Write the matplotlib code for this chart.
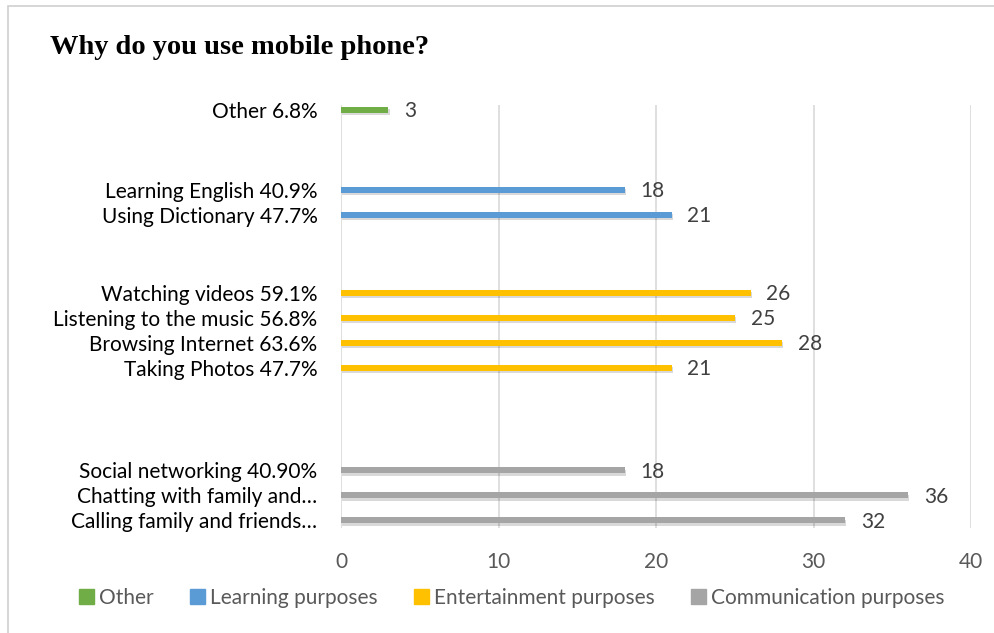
import matplotlib.pyplot as plt
import matplotlib.patheffects as pe
from matplotlib.patches import Rectangle, Patch

# survey answers, top to bottom
labels = [
    "Other 6.8%",
    "Learning English 40.9%",
    "Using Dictionary 47.7%",
    "Watching videos 59.1%",
    "Listening to the music 56.8%",
    "Browsing Internet 63.6%",
    "Taking Photos 47.7%",
    "Social networking 40.90%",
    "Chatting with family and…",
    "Calling family and friends…",
]
counts = [3, 18, 21, 26, 25, 28, 21, 18, 36, 32]
groups = ["Other", "Learning purposes", "Learning purposes",
          "Entertainment purposes", "Entertainment purposes",
          "Entertainment purposes", "Entertainment purposes",
          "Communication purposes", "Communication purposes",
          "Communication purposes"]

legend_order = ["Other", "Learning purposes", "Entertainment purposes",
                "Communication purposes"]
colors = {
    "Other": "#70AD47",
    "Learning purposes": "#5B9BD5",
    "Entertainment purposes": "#FFC000",
    "Communication purposes": "#A5A5A5",
}
# extra empty space between groups (in bar slots), from the bottom up
group_gap = {"Entertainment purposes": 4.1, "Learning purposes": 3.1,
             "Other": 3.2}

# build y positions from the bottom
ypos = []
y = 0.0
prev = None
for g in reversed(groups):
    if prev is not None:
        y += group_gap[g] if g != prev else 1.0
    ypos.append(y)
    prev = g
ypos = ypos[::-1]

plt.rcParams["font.family"] = ["Lato", "DejaVu Sans"]
fs = 15

fig = plt.figure(figsize=(9.94, 6.33), dpi=100)
fig.patches.append(Rectangle((8 / 994, -0.01), 1.0, 1 - 6 / 633 + 0.01,
                             transform=fig.transFigure, fill=False,
                             edgecolor="#D0D0D0", lw=1.2))

ax = fig.add_axes([341 / 994, 1 - 528 / 633, 630 / 994, 423 / 633])

shadow = [pe.SimplePatchShadow(offset=(1, -1.5), shadow_rgbFace="#000000",
                               alpha=0.15), pe.Normal()]
for yy, v, g in zip(ypos, counts, groups):
    bar = ax.barh(yy, v, height=0.24, color=colors[g], zorder=3)
    for p in bar:
        p.set_path_effects(shadow)
    ax.text(v + 1, yy - 0.05, str(v), va="center", ha="left",
            fontsize=fs, color="#404040")

ax.set_xlim(0, 40)
ax.set_ylim(-0.3, 16.6)
ax.set_xticks([0, 10, 20, 30, 40])
ax.set_yticks(ypos)
ax.set_yticklabels(labels, fontsize=fs, color="#000000")
ax.tick_params(axis="x", labelsize=fs, labelcolor="#595959", length=0,
               pad=17)
ax.tick_params(axis="y", length=0, pad=17)
ax.grid(axis="x", color="#D9D9D9", lw=1.2, zorder=0)
for s in ax.spines.values():
    s.set_visible(False)

fig.text(50 / 994, 1 - 47 / 633, "Why do you use mobile phone?",
         fontsize=20.5, fontweight="bold", family="Liberation Serif",
         va="center", ha="left")

handles = [Patch(color=colors[g]) for g in legend_order]
fig.legend(handles, legend_order, loc="center", ncol=4, frameon=False,
           bbox_to_anchor=(512 / 994, 1 - 598 / 633), fontsize=fs,
           handlelength=0.7, handleheight=0.7, handletextpad=0.25,
           columnspacing=1.75, labelcolor="#595959")

fig.savefig("out.png", dpi=100)
